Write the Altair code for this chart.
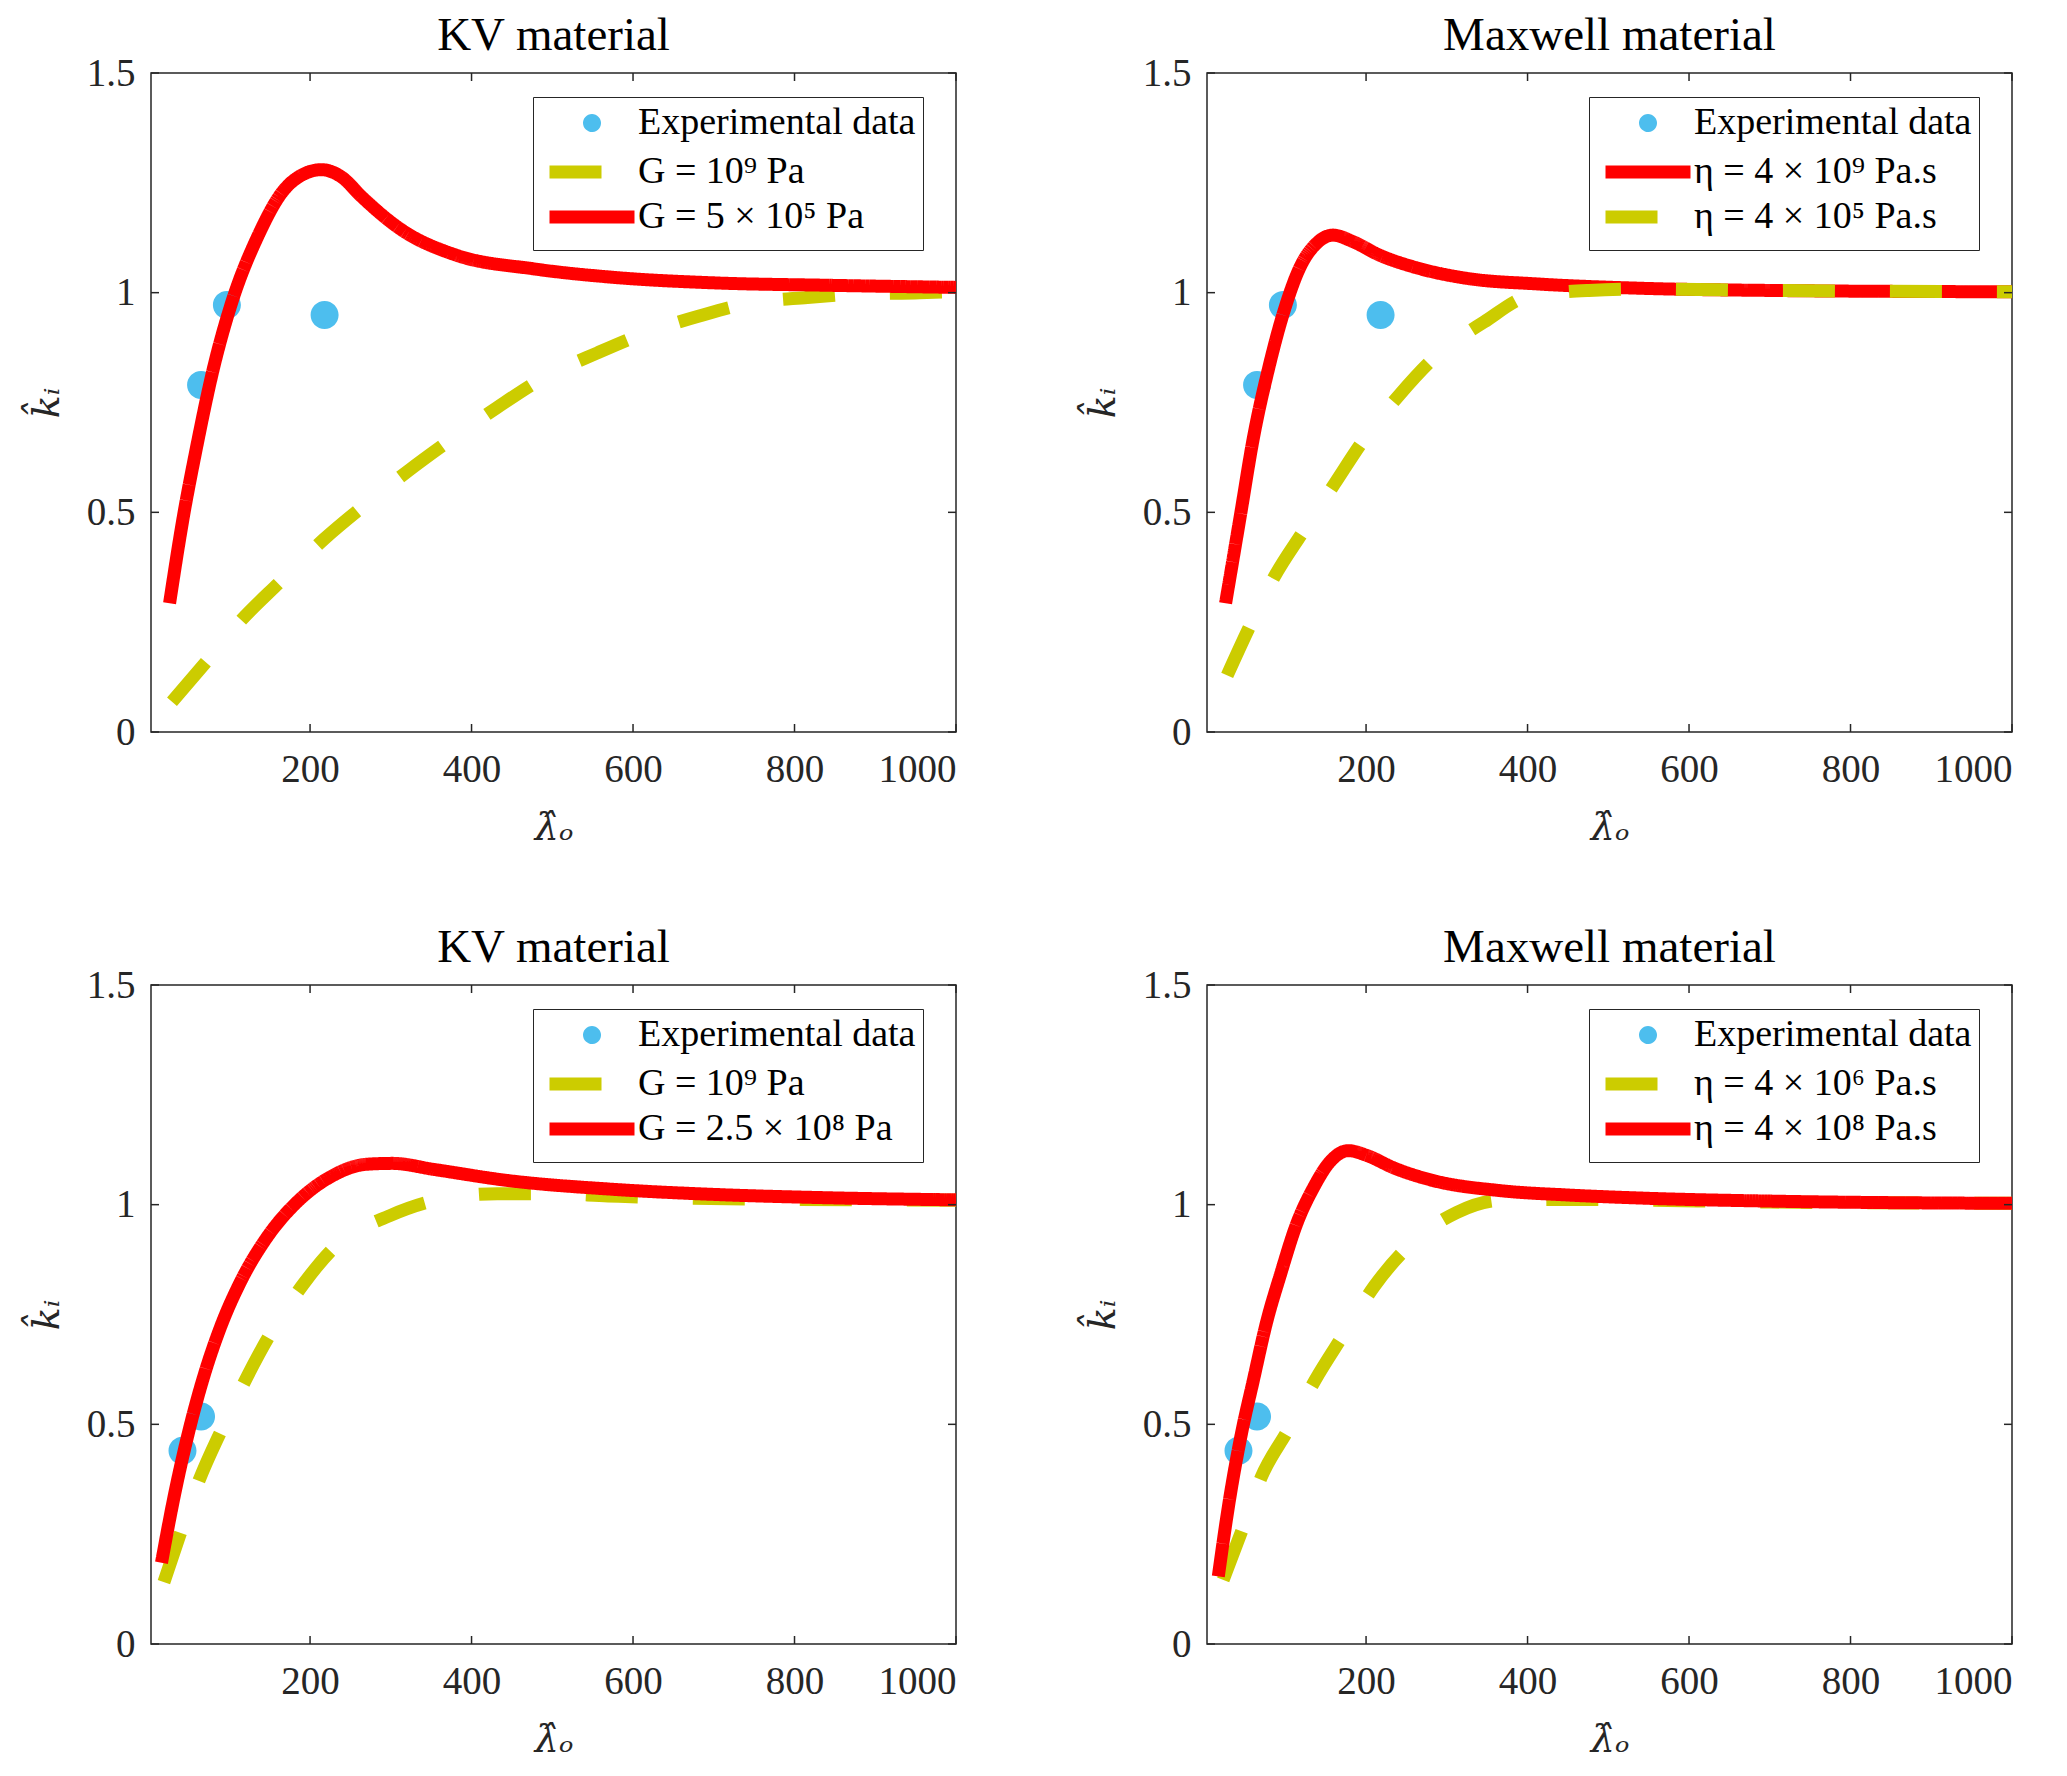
import sys
import altair as alt
import pandas as pd

FONT = "Liberation Serif, DejaVu Serif, serif"
MATH = "DejaVu Serif"
BLUE = "#4DBEEE"
YELLOW = "#CCCC00"
RED = "#FF0000"
FRAME = "#262626"

PW, PH = 805, 659

x_ticks = [200, 400, 600, 800, 1000]
y_ticks = [0, 0.5, 1, 1.5]

# experimental points (same in the two top panels, and in the two bottom ones)
exp_top_x = [65, 97, 218]
exp_top_y = [0.79, 0.972, 0.949]
exp_bot_x = [42, 65]
exp_bot_y = [0.44, 0.518]

# top left, KV
kv1_g9_x = [29, 71, 114, 163, 218, 270, 322, 374, 432, 491, 556, 615, 682, 747, 816, 880, 955, 1000]
kv1_g9_y = [0.069, 0.159, 0.253, 0.342, 0.44, 0.52, 0.595, 0.665, 0.739, 0.808, 0.863, 0.908,
            0.947, 0.977, 0.989, 0.997, 1.0, 1.003]
kv1_g5_x = [26, 44, 58, 81, 102, 136, 166, 190, 214, 240, 263, 315, 380, 478, 575, 705, 836, 1000]
kv1_g5_y = [0.293, 0.50, 0.635, 0.833, 0.972, 1.131, 1.230, 1.268, 1.280, 1.262, 1.22, 1.141,
            1.086, 1.054, 1.035, 1.022, 1.017, 1.012]

# top right, Maxwell
mx1_e9_x = [26, 45, 60, 80, 99, 119, 138, 159, 184, 216, 262, 327, 411, 541, 704, 1000]
mx1_e9_y = [0.293, 0.5, 0.665, 0.833, 0.962, 1.061, 1.111, 1.131, 1.116, 1.086, 1.057, 1.032,
            1.020, 1.010, 1.005, 1.002]
mx1_e5_x = [28, 54, 86, 122, 161, 197, 242, 288, 346, 402, 476, 541, 700, 1000]
mx1_e5_y = [0.129, 0.233, 0.352, 0.456, 0.565, 0.665, 0.769, 0.858, 0.933, 0.992, 1.005, 1.008,
            1.005, 1.002]

# bottom left, KV
kv2_g9_x = [19, 39, 62, 91, 117, 149, 192, 234, 299, 361, 432, 497, 569, 634, 800, 1000]
kv2_g9_y = [0.141, 0.25, 0.37, 0.49, 0.59, 0.70, 0.82, 0.91, 0.975, 1.012, 1.025, 1.025, 1.02,
            1.016, 1.012, 1.01]
kv2_g8_x = [16, 32, 49, 68, 88, 114, 146, 185, 224, 270, 302, 354, 445, 575, 705, 835, 1000]
kv2_g8_y = [0.185, 0.339, 0.478, 0.607, 0.716, 0.825, 0.924, 1.008, 1.062, 1.092, 1.094, 1.08,
            1.055, 1.035, 1.023, 1.016, 1.011]

# bottom right, Maxwell
mx2_e6_x = [23, 46, 70, 103, 137, 172, 210, 253, 312, 366, 450, 515, 700, 1000]
mx2_e6_y = [0.146, 0.257, 0.379, 0.486, 0.601, 0.704, 0.814, 0.906, 0.982, 1.01, 1.012, 1.011,
            1.006, 1.003]
mx2_e8_x = [17, 31, 46, 60, 77, 94, 114, 135, 155, 178, 201, 234, 283, 366, 450, 541, 704, 1000]
mx2_e8_y = [0.154, 0.33, 0.482, 0.597, 0.734, 0.841, 0.956, 1.039, 1.097, 1.123, 1.112, 1.084,
            1.055, 1.032, 1.022, 1.015, 1.008, 1.003]

EXP = "Experimental data"
# legend symbol paths (unit box, scaled by sqrt(size)/2 = 10 px in the legend);
# the two short strokes fill the middle of the thick-stroked ring
DOT = ("M-0.25,0A0.25,0.25 0 1,0 0.25,0A0.25,0.25 0 1,0 -0.25,0Z"
       "M-0.4,0H0.4M0,-0.4V0.4")
LINE = "M-4.25,0H4.25"
DASH = [52, 55]
SOLID = [1, 0]


def make_legend():
    return alt.Legend(
        title=None, orient="none", legendX=382, legendY=24,
        strokeColor=FRAME, fillColor="white", padding=7,
        labelFont=FONT, labelFontSize=38, labelColor="black", labelLimit=2000,
        symbolSize=400, symbolStrokeWidth=13, symbolOpacity=1, symbolFillColor=BLUE,
        symbolOffset=33, labelOffset=27, rowPadding=-8,
    )


def panel(title, labels, colors, exp_x, exp_y, curves, dashed):
    xsc = alt.Scale(domain=[3, 1000], nice=False, zero=False)
    ysc = alt.Scale(domain=[0, 1.5], nice=False)
    x = alt.X("x:Q", scale=xsc, axis=alt.Axis(
        values=x_ticks, format="d", title="λ̂ₒ", ticks=False, domain=False, grid=False,
        labelFont=FONT, labelFontSize=39, labelColor=FRAME, labelPadding=18,
        titleFont=MATH, titleFontSize=38, titleFontStyle="italic", titleFontWeight="normal",
        titleColor=FRAME, titlePadding=20))
    y = alt.Y("y:Q", scale=ysc, axis=alt.Axis(
        values=y_ticks, format="~g", title="k̂ᵢ", ticks=False, domain=False, grid=False,
        labelFont=FONT, labelFontSize=39, labelColor=FRAME, labelPadding=16,
        titleFont=MATH, titleFontSize=38, titleFontStyle="italic", titleFontWeight="normal",
        titleColor=FRAME, titlePadding=20))
    color = alt.Color("series:N", scale=alt.Scale(domain=labels, range=colors),
                      legend=make_legend())
    shape = alt.Shape("series:N", scale=alt.Scale(
        domain=labels, range=[DOT if l == EXP else LINE for l in labels]),
        legend=make_legend())
    dash = alt.StrokeDash("series:N", scale=alt.Scale(
        domain=labels, range=[DASH if l == dashed else SOLID for l in labels]),
        legend=make_legend())

    pts = alt.Chart(pd.DataFrame({"x": exp_x, "y": exp_y, "series": EXP})).mark_point(
        filled=True, size=12544, opacity=1, strokeWidth=0
    ).encode(x=x, y=y, color=color, shape=shape)
    layers = [pts]
    for lab, cx, cy in curves:
        df = pd.DataFrame({"x": cx, "y": cy, "series": lab})
        layers.append(alt.Chart(df).mark_line(
            strokeWidth=13, strokeCap="butt", interpolate="monotone"
        ).encode(x=alt.X("x:Q", scale=xsc), y=alt.Y("y:Q", scale=ysc),
                 color=color, strokeDash=dash))

    xt = pd.DataFrame({"x": x_ticks})
    yt = pd.DataFrame({"y": y_ticks})
    tick = dict(color=FRAME, strokeWidth=1.5)
    layers += [
        alt.Chart(xt).mark_rule(**tick).encode(x=alt.X("x:Q", scale=xsc), y=alt.value(PH), y2=alt.value(PH - 8)),
        alt.Chart(xt).mark_rule(**tick).encode(x=alt.X("x:Q", scale=xsc), y=alt.value(0), y2=alt.value(8)),
        alt.Chart(yt).mark_rule(**tick).encode(y=alt.Y("y:Q", scale=ysc), x=alt.value(0), x2=alt.value(8)),
        alt.Chart(yt).mark_rule(**tick).encode(y=alt.Y("y:Q", scale=ysc), x=alt.value(PW), x2=alt.value(PW - 8)),
    ]
    return alt.layer(*layers).properties(
        width=PW, height=PH,
        title=alt.TitleParams(title, font=FONT, fontSize=47, fontWeight="normal",
                              color="black", offset=-6),
    )


tl = panel("KV material",
           [EXP, "G = 10⁹ Pa", "G = 5 × 10⁵ Pa"], [BLUE, YELLOW, RED],
           exp_top_x, exp_top_y,
           [("G = 10⁹ Pa", kv1_g9_x, kv1_g9_y), ("G = 5 × 10⁵ Pa", kv1_g5_x, kv1_g5_y)],
           "G = 10⁹ Pa")
tr = panel("Maxwell material",
           [EXP, "η = 4 × 10⁹ Pa.s", "η = 4 × 10⁵ Pa.s"], [BLUE, RED, YELLOW],
           exp_top_x, exp_top_y,
           [("η = 4 × 10⁹ Pa.s", mx1_e9_x, mx1_e9_y), ("η = 4 × 10⁵ Pa.s", mx1_e5_x, mx1_e5_y)],
           "η = 4 × 10⁵ Pa.s")
bl = panel("KV material",
           [EXP, "G = 10⁹ Pa", "G = 2.5 × 10⁸ Pa"], [BLUE, YELLOW, RED],
           exp_bot_x, exp_bot_y,
           [("G = 10⁹ Pa", kv2_g9_x, kv2_g9_y), ("G = 2.5 × 10⁸ Pa", kv2_g8_x, kv2_g8_y)],
           "G = 10⁹ Pa")
br = panel("Maxwell material",
           [EXP, "η = 4 × 10⁶ Pa.s", "η = 4 × 10⁸ Pa.s"], [BLUE, YELLOW, RED],
           exp_bot_x, exp_bot_y,
           [("η = 4 × 10⁶ Pa.s", mx2_e6_x, mx2_e6_y), ("η = 4 × 10⁸ Pa.s", mx2_e8_x, mx2_e8_y)],
           "η = 4 × 10⁶ Pa.s")

chart = alt.concat(
    tl, tr, bl, br, columns=2, spacing={"row": 253, "column": 251}, bounds="flush"
).resolve_scale(
    color="independent", shape="independent", strokeDash="independent"
).configure_view(
    stroke=FRAME, strokeWidth=1.5
).properties(
    padding={"left": 19, "top": 3, "right": 5, "bottom": 5},
    background="white",
)

try:
    chart.to_dict()
except Exception as e:
    sys.stderr.write(str(e)[:1500] + "\n")
    sys.exit(1)

chart.save("out.html", embed_options={"renderer": "svg", "actions": False})
